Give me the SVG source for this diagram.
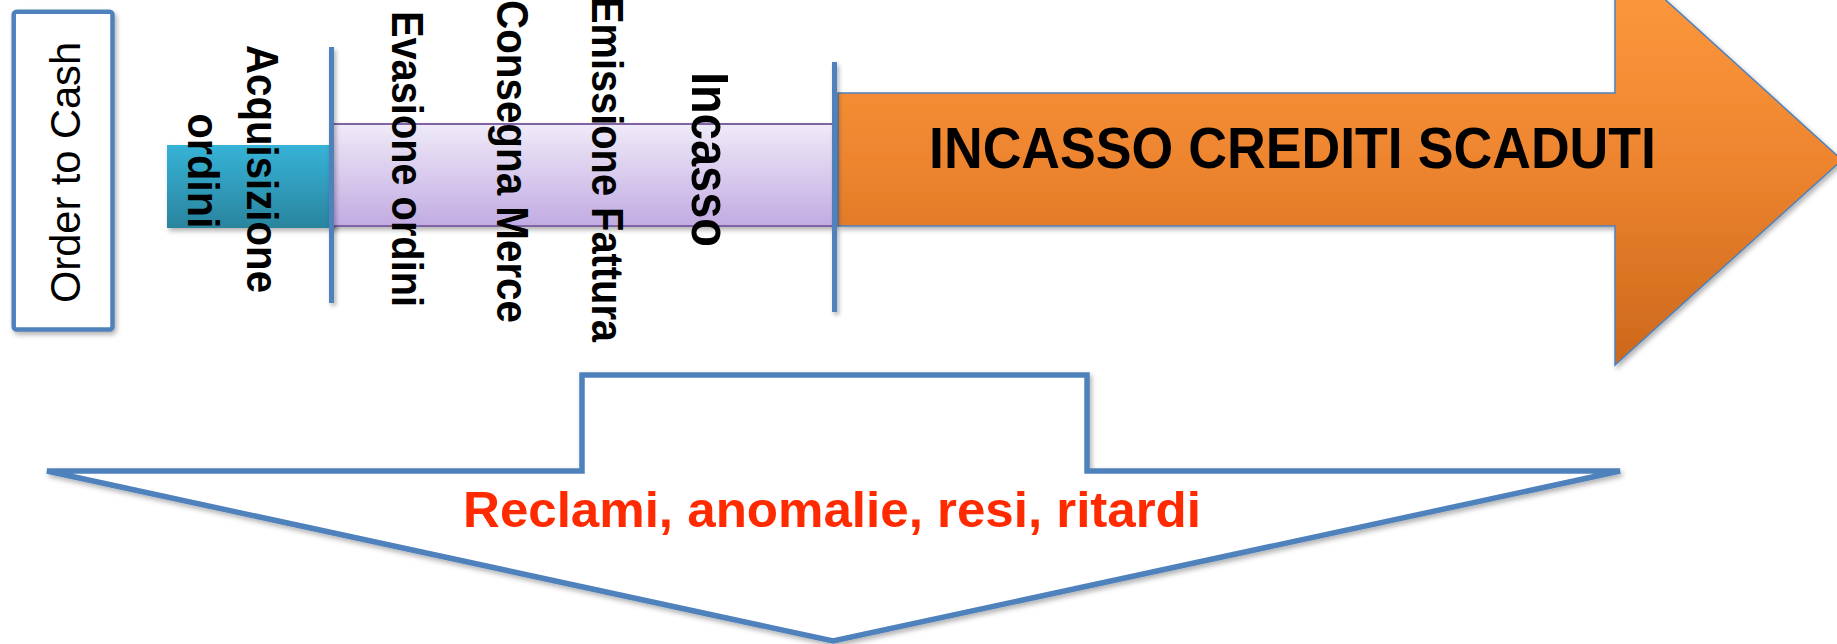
<svg xmlns="http://www.w3.org/2000/svg" width="1837" height="644" viewBox="0 0 1837 644">
<style>
.lbl{font-family:"Liberation Sans",Arial,sans-serif;font-weight:bold;fill:#000}
.vline{stroke:#4F81BD;stroke-width:5;fill:none}
</style>
<defs>
<filter id="sh" x="-10%" y="-10%" width="130%" height="130%">
<feDropShadow dx="2" dy="3" stdDeviation="2.5" flood-color="#000" flood-opacity="0.3"/>
</filter>
<filter id="shl" filterUnits="userSpaceOnUse" x="0" y="0" width="1837" height="644">
<feDropShadow dx="2" dy="3" stdDeviation="2" flood-color="#000" flood-opacity="0.3"/>
</filter>
<linearGradient id="gTeal" x1="0" y1="0" x2="0" y2="1">
<stop offset="0" stop-color="#36B3D7"/>
<stop offset="1" stop-color="#2A849E"/>
</linearGradient>
<linearGradient id="gPurple" x1="0" y1="0" x2="0" y2="1">
<stop offset="0" stop-color="#EFEAF8"/>
<stop offset="1" stop-color="#C2ABE2"/>
</linearGradient>
<linearGradient id="gOrange" gradientUnits="userSpaceOnUse" x1="0" y1="-46" x2="0" y2="365">
<stop offset="0" stop-color="#FF9B3F"/>
<stop offset="0.5" stop-color="#EE852F"/>
<stop offset="1" stop-color="#CC681C"/>
</linearGradient>
</defs>

<g id="order-to-cash">
<rect x="13.7" y="11.7" width="98.8" height="317.8" rx="3" fill="#fff" stroke="#4F81BD" stroke-width="4.5" filter="url(#sh)"/>
<text transform="translate(80,172.5) rotate(-90)" text-anchor="middle" font-family="Liberation Sans, Arial, sans-serif" font-size="43" fill="#000" textLength="261" lengthAdjust="spacingAndGlyphs">Order to Cash</text>
</g>

<g id="acquisizione">
<rect x="167" y="145" width="168" height="83" fill="url(#gTeal)" filter="url(#sh)"/>
</g>

<g id="evasione-band">
<rect x="332" y="124" width="502" height="102" fill="url(#gPurple)" stroke="#8064A2" stroke-width="2" filter="url(#sh)"/>
</g>

<g id="incasso-crediti-scaduti">
<path d="M838,93 L1615,93 L1615,-46 L1842,160 L1615,365 L1615,226 L838,226 Z" fill="url(#gOrange)" stroke="#4F81BD" stroke-width="1.5" filter="url(#sh)"/>
<text class="lbl" x="929" y="168" font-size="58" textLength="727" lengthAdjust="spacingAndGlyphs">INCASSO CREDITI SCADUTI</text>
</g>

<g id="connectors">
<line class="vline" x1="331.5" y1="47" x2="331.5" y2="303" filter="url(#shl)"/>
<line class="vline" x1="834.5" y1="62" x2="834.5" y2="312" filter="url(#shl)"/>
</g>

<g id="phase-labels">
<text class="lbl" transform="translate(247,169) rotate(90)" text-anchor="middle" font-size="44" textLength="248" lengthAdjust="spacingAndGlyphs">Acquisizione</text>
<text class="lbl" transform="translate(188,171) rotate(90)" text-anchor="middle" font-size="44" textLength="115" lengthAdjust="spacingAndGlyphs">ordini</text>
<text class="lbl" transform="translate(392,159) rotate(90)" text-anchor="middle" font-size="44" textLength="296" lengthAdjust="spacingAndGlyphs">Evasione ordini</text>
<text class="lbl" transform="translate(497,161.5) rotate(90)" text-anchor="middle" font-size="44" textLength="323" lengthAdjust="spacingAndGlyphs">Consegna Merce</text>
<text class="lbl" transform="translate(592,169.5) rotate(90)" text-anchor="middle" font-size="44" textLength="345" lengthAdjust="spacingAndGlyphs">Emissione Fattura</text>
<text class="lbl" transform="translate(692,159.5) rotate(90)" text-anchor="middle" font-size="51" textLength="175" lengthAdjust="spacingAndGlyphs">Incasso</text>
</g>

<g id="reclami">
<path d="M582,375 L1087,375 L1087,471 L1620,471 L833,641 L47,471 L582,471 Z" fill="#fff" stroke="#4F81BD" stroke-width="5.5" stroke-linejoin="miter" filter="url(#sh)"/>
<text x="463" y="527" font-family="Liberation Sans, Arial, sans-serif" font-weight="bold" font-size="50" fill="#FF2A00" textLength="738" lengthAdjust="spacingAndGlyphs">Reclami, anomalie, resi, ritardi</text>
</g>
</svg>
